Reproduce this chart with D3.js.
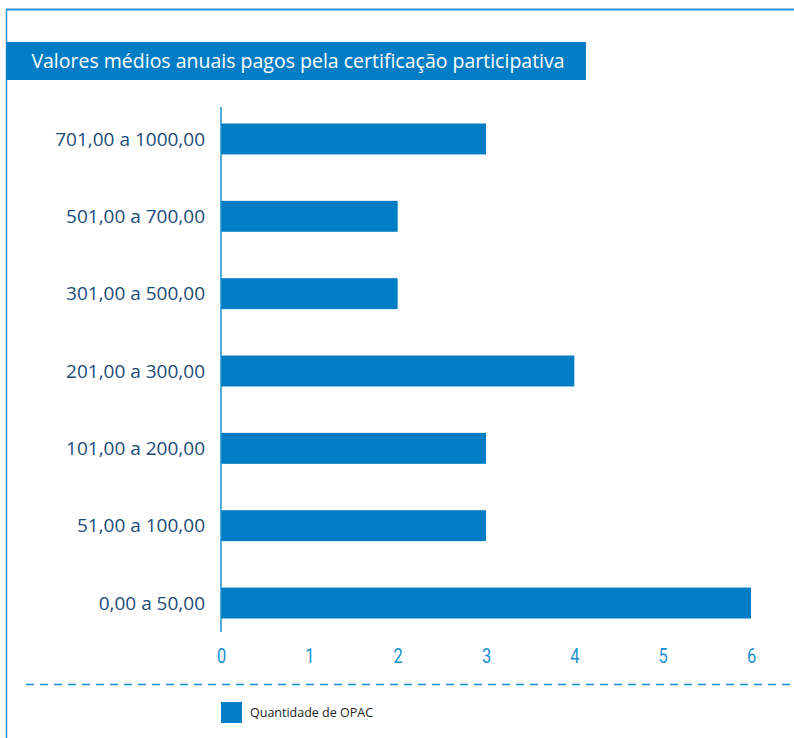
<!DOCTYPE html>
<html><head><meta charset="utf-8">
<script src="https://cdn.jsdelivr.net/npm/d3@7"></script>
<style>html,body{margin:0;padding:0;background:#fff;}svg{display:block;}</style>
</head><body>
<script>
const categories = ["701,00 a 1000,00","501,00 a 700,00","301,00 a 500,00","201,00 a 300,00","101,00 a 200,00","51,00 a 100,00","0,00 a 50,00"];
const values = [3,2,2,4,3,3,6];
const xTicks = [0,1,2,3,4,5,6];
const title = "Valores médios anuais pagos pela certificação participativa";
const seriesName = "Quantidade de OPAC";

const W=794,H=738, blue="#007dc5", tickBlue="#1a8fd0", labelBlue="#1b4c7a";
const svg=d3.select("body").append("svg").attr("width",W).attr("height",H);

// frame
svg.append("line").attr("x1",6).attr("x2",W).attr("y1",9.5).attr("y2",9.5).attr("stroke","#2a8fcf").attr("stroke-width",2);
svg.append("line").attr("x1",6.5).attr("x2",6.5).attr("y1",9).attr("y2",H).attr("stroke","#2a8fcf").attr("stroke-width",1.5);

// title box
svg.append("rect").attr("x",6).attr("y",42).attr("width",580).attr("height",38).attr("fill",blue);
svg.append("text").attr("x",298).attr("y",67.5).attr("text-anchor","middle").attr("fill","#fff")
  .attr("font-family","'Open Sans', sans-serif").attr("font-size",19.5).text(title);

const x=d3.scaleLinear().domain([0,6]).range([221,751]);
const y=d3.scaleBand().domain(categories).range([100.3,641.7]).paddingInner(0.6).paddingOuter(0.3);

svg.selectAll("rect.bar").data(categories).join("rect").attr("class","bar")
  .attr("x",x(0)).attr("y",d=>y(d)).attr("height",y.bandwidth())
  .attr("width",(d,i)=>x(values[i])-x(0)).attr("fill",blue);

// y axis
const ya=svg.append("g").attr("transform",`translate(${x(0)},0)`).call(d3.axisLeft(y).tickSize(0).tickPadding(16));
ya.select(".domain").remove();
ya.selectAll("text").attr("fill",labelBlue).attr("font-family","'Open Sans', sans-serif").attr("font-size",19).attr("dy","0.35em");
svg.append("line").attr("x1",221).attr("x2",221).attr("y1",107).attr("y2",632).attr("stroke",tickBlue).attr("stroke-width",1.5);

// x axis
const xa=svg.append("g").attr("transform","translate(0,632)").call(d3.axisBottom(x).tickValues(xTicks).tickSize(0).tickPadding(0).tickFormat(d3.format("d")));
xa.select(".domain").remove();
xa.selectAll("text").attr("fill",tickBlue).attr("font-family","'Roboto', sans-serif").attr("font-size",21)
  .attr("y",31).attr("dy",0).attr("transform","scale(0.78,1)");

// dashed separator
svg.append("line").attr("x1",26).attr("x2",W).attr("y1",684.5).attr("y2",684.5).attr("stroke",tickBlue).attr("stroke-width",1.5).attr("stroke-dasharray","8,6");

// legend
svg.append("rect").attr("x",221).attr("y",702).attr("width",21).attr("height",21).attr("fill",blue);
svg.append("text").attr("x",250).attr("y",717).attr("fill","#222").attr("font-family","'Open Sans', sans-serif").attr("font-size",12.5).text(seriesName);
</script>
</body></html>
